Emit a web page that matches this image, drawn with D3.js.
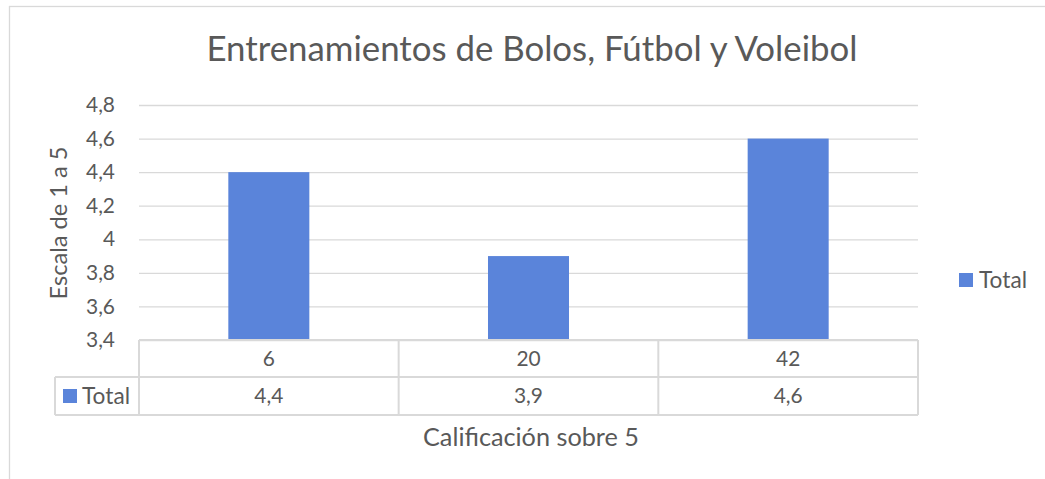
<!DOCTYPE html>
<html><head><meta charset="utf-8">
<script src="https://cdn.jsdelivr.net/npm/d3@7"></script>
<style>body{margin:0;background:#fff;} svg{display:block;font-family:Lato,"Open Sans",sans-serif;}</style>
</head><body>
<svg id="c" width="1045" height="479"></svg>
<script>
const title = "Entrenamientos de Bolos, Fútbol y Voleibol";
const categories = ["6", "20", "42"];
const values = [4.4, 3.9, 4.6];
const seriesName = "Total";
const yTicks = [3.4, 3.6, 3.8, 4.0, 4.2, 4.4, 4.6, 4.8];
const yTitle = "Escala de 1 a 5";
const xTitle = "Calificación sobre 5";

const loc = d3.formatLocale({decimal: ",", thousands: ".", grouping: [3], currency: ["", "€"]});
const fmt = loc.format(".1~f");

const svg = d3.select("#c");
const textColor = "#595959", gridColor = "#D9D9D9", barColor = "#5A84DA";
const L = 139, R = 918, T = 105, B = 340;

function fit(sel, target) {
  sel.each(function () {
    const w = this.getComputedTextLength();
    const fs = parseFloat(this.getAttribute("font-size"));
    if (w > 0) this.setAttribute("font-size", (fs * target / w).toFixed(2));
  });
  return sel;
}
// size a group of texts so that the first one reaches target width
function fitGroup(sel, target) {
  const n = sel.node();
  const w = n.getComputedTextLength();
  const fs = parseFloat(n.getAttribute("font-size"));
  if (w > 0) sel.attr("font-size", (fs * target / w).toFixed(2));
  return sel;
}

// outer frame
svg.append("rect").attr("x", 9.5).attr("y", 6.5).attr("width", 1100).attr("height", 600)
  .attr("fill", "none").attr("stroke", gridColor).attr("stroke-width", 1.3);

const x = d3.scaleBand().domain(categories).range([L, R]).paddingInner(0.688).paddingOuter(0.344);
const xc = d3.scaleBand().domain(categories).range([L, R]);
const y = d3.scaleLinear().domain([3.4, 4.8]).range([B, T]);

// gridlines + y ticks
const yAxis = d3.axisLeft(y).tickValues(yTicks).tickSize(-(R - L)).tickFormat(fmt).tickPadding(24);
const gy = svg.append("g").attr("transform", `translate(${L},0)`).call(yAxis);
gy.select(".domain").remove();
gy.attr("font-family", null);
gy.selectAll(".tick line").attr("stroke", gridColor).attr("stroke-width", 1.3);
const tickTexts = gy.selectAll(".tick text").attr("fill", textColor).attr("font-size", 20);
// first tick "3,4" width ~29px in reference
fitGroup(tickTexts, 29);

// bars
svg.append("g").selectAll("rect").data(values).join("rect")
  .attr("x", (d, i) => x(categories[i]))
  .attr("width", x.bandwidth())
  .attr("y", d => y(d))
  .attr("height", d => y(3.4) - y(d))
  .attr("fill", barColor);

// data table
const row1 = 340, row2 = 377, row3 = 415, legL = 55;
const tg = svg.append("g").attr("stroke", gridColor).attr("stroke-width", 2).attr("fill", "none");
tg.append("line").attr("x1", L).attr("x2", R).attr("y1", row1).attr("y2", row1);
tg.append("line").attr("x1", legL).attr("x2", R).attr("y1", row2).attr("y2", row2);
tg.append("line").attr("x1", legL).attr("x2", R).attr("y1", row3).attr("y2", row3);
tg.append("line").attr("x1", legL).attr("x2", legL).attr("y1", row2).attr("y2", row3);
tg.selectAll("line.v").data(categories.concat(["end"])).join("line").attr("class", "v")
  .attr("x1", (d, i) => i < categories.length ? xc(d) : R)
  .attr("x2", (d, i) => i < categories.length ? xc(d) : R)
  .attr("y1", row1).attr("y2", row3);

const tableFont = tickTexts.attr("font-size");
svg.append("g").selectAll("text").data(categories).join("text")
  .attr("x", d => xc(d) + xc.bandwidth() / 2).attr("y", (row1 + row2) / 2)
  .attr("dy", "0.35em").attr("text-anchor", "middle").attr("fill", textColor).attr("font-size", tableFont)
  .text(d => d);
svg.append("g").selectAll("text").data(values).join("text")
  .attr("x", (d, i) => xc(categories[i]) + xc.bandwidth() / 2).attr("y", (row2 + row3) / 2)
  .attr("dy", "0.35em").attr("text-anchor", "middle").attr("fill", textColor).attr("font-size", tableFont)
  .text(d => fmt(d));

// legend key in table
svg.append("rect").attr("x", 63).attr("y", 389).attr("width", 14).attr("height", 14).attr("fill", barColor);
fit(svg.append("text").attr("x", 82).attr("y", 396).attr("dy", "0.35em").attr("fill", textColor)
  .attr("font-size", 19).text(seriesName), 48);

// right legend
svg.append("rect").attr("x", 959).attr("y", 273).attr("width", 14).attr("height", 14).attr("fill", barColor);
fit(svg.append("text").attr("x", 979).attr("y", 280).attr("dy", "0.35em").attr("fill", textColor)
  .attr("font-size", 19).text(seriesName), 48);

// titles
fit(svg.append("text").attr("x", 532).attr("y", 61).attr("text-anchor", "middle").attr("fill", textColor)
  .attr("font-size", 30).text(title), 651);
fit(svg.append("text").attr("transform", "translate(67,223) rotate(-90)").attr("text-anchor", "middle")
  .attr("fill", textColor).attr("font-size", 20).text(yTitle), 153);
fit(svg.append("text").attr("x", 531).attr("y", 446).attr("text-anchor", "middle")
  .attr("fill", textColor).attr("font-size", 20).text(xTitle), 216);
</script>
</body></html>
